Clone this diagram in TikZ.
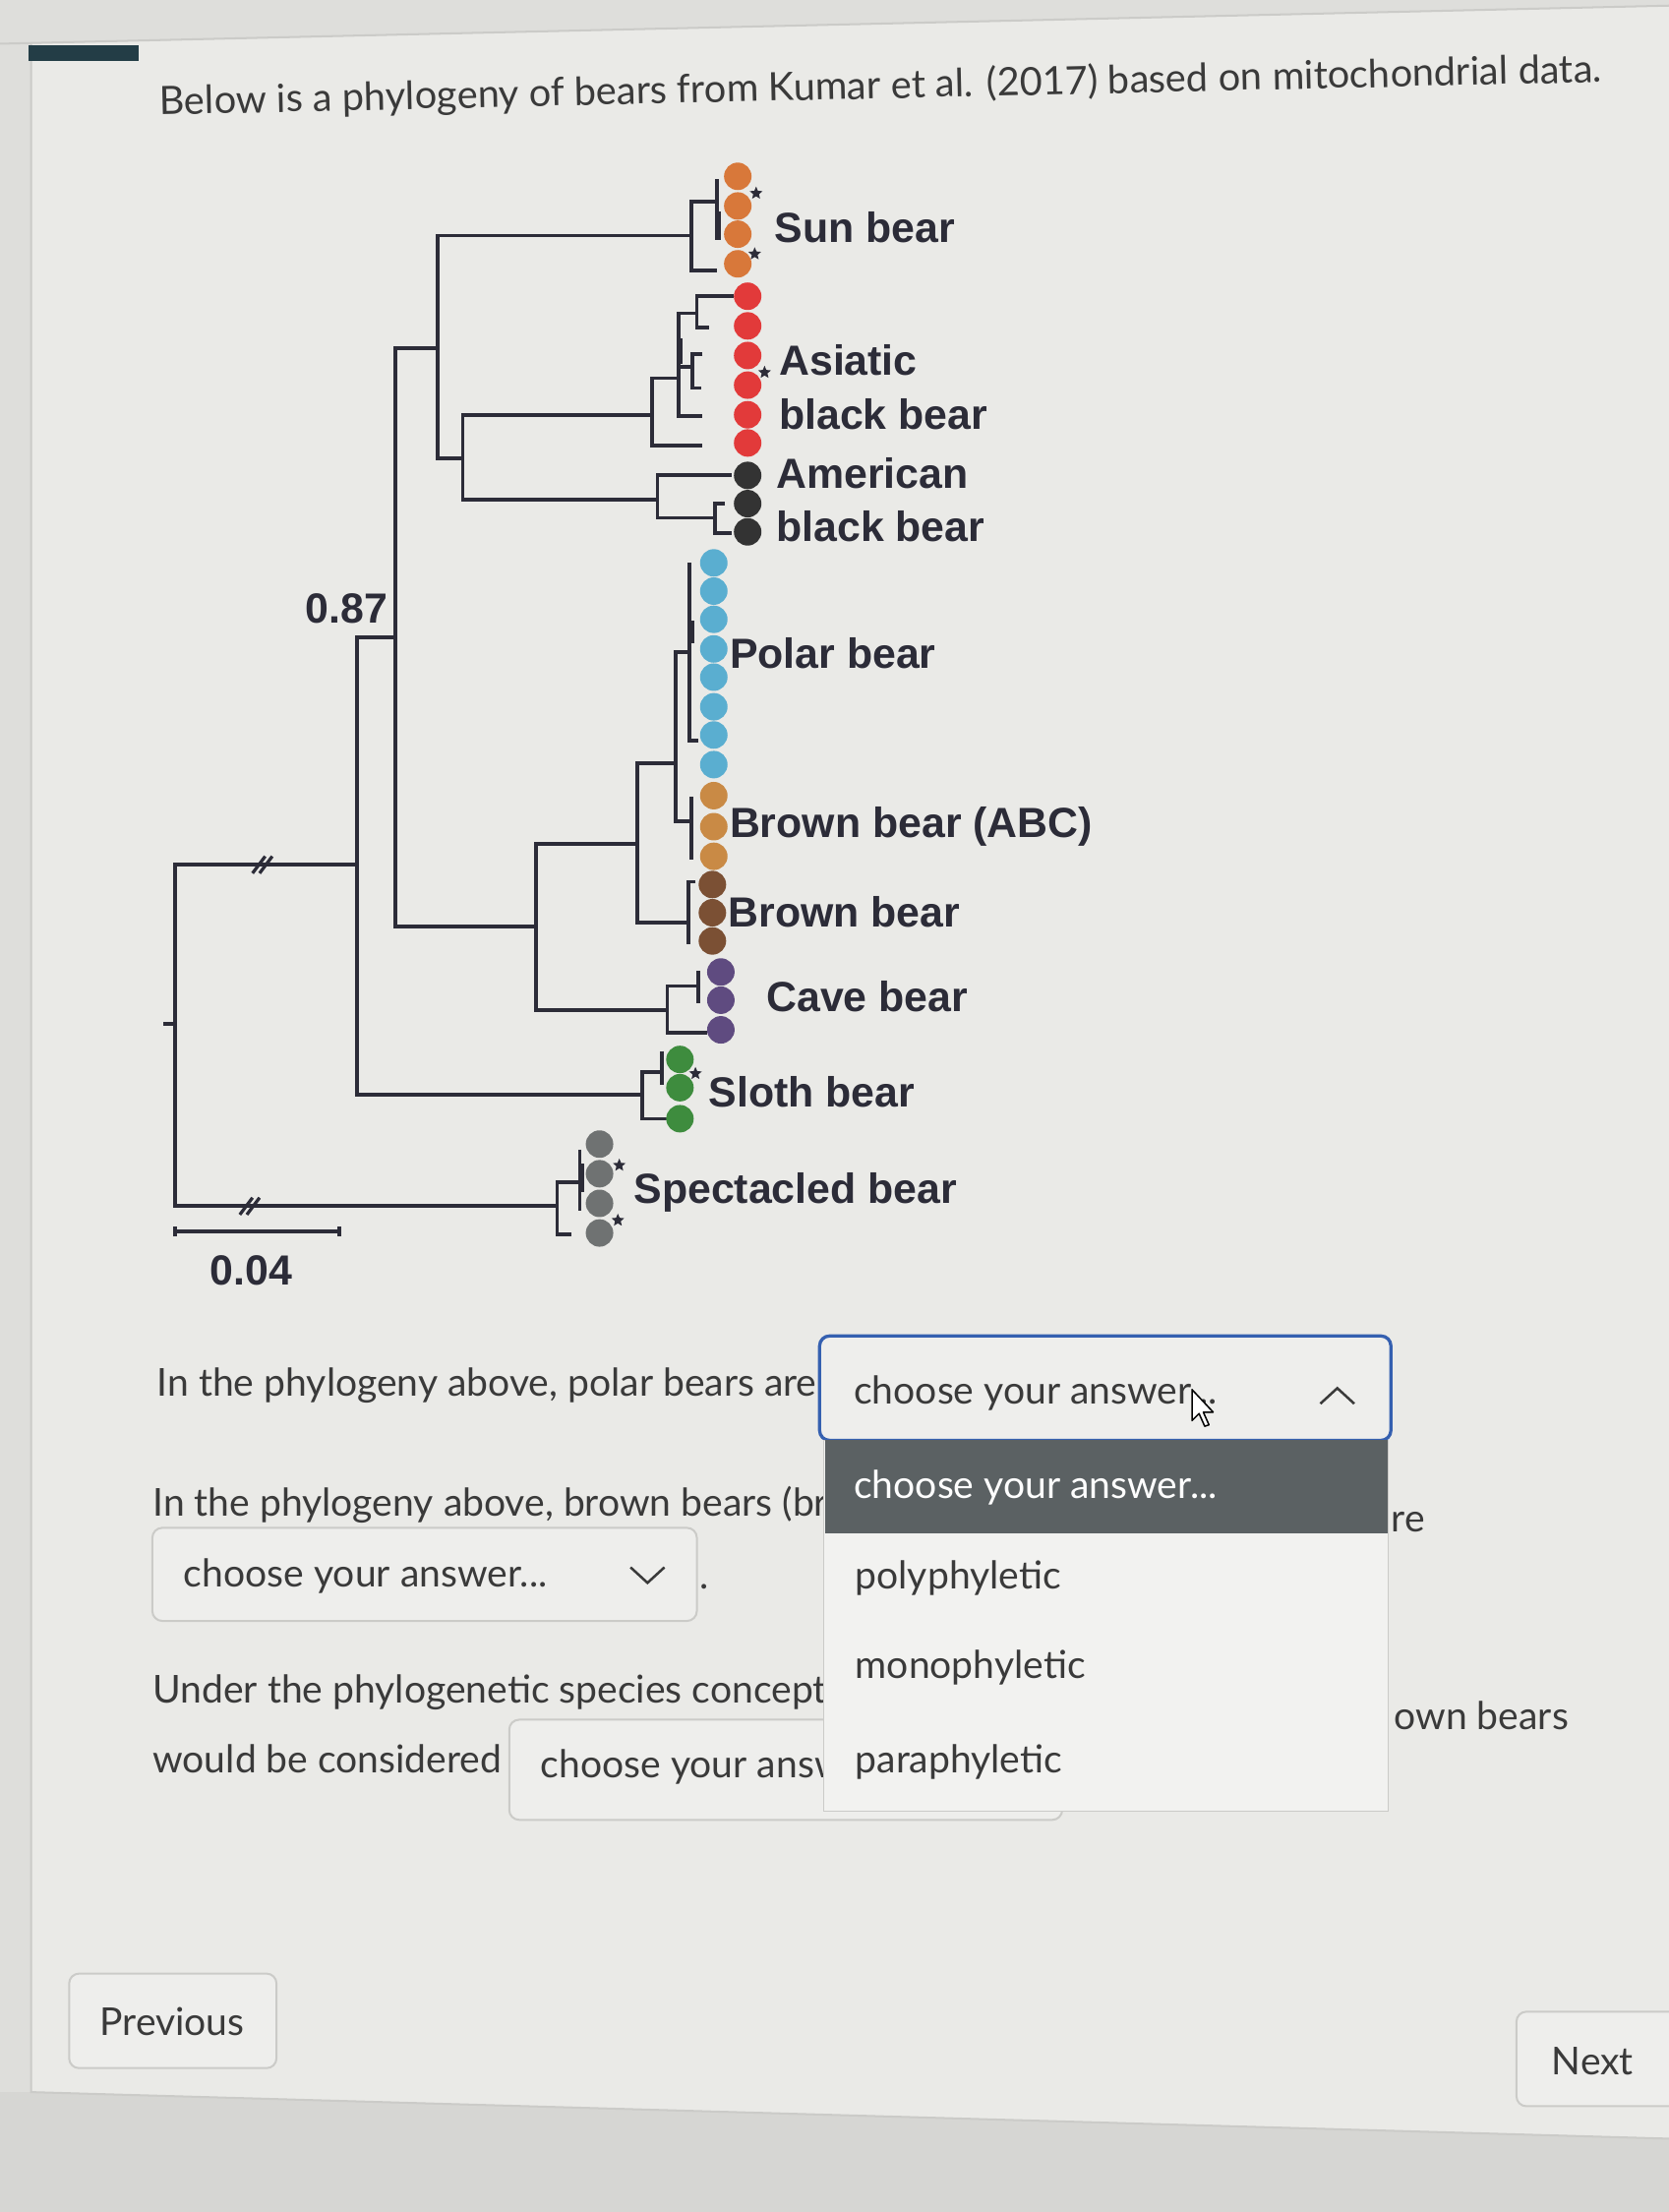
\documentclass[tikz,border=0pt]{standalone}
\usepackage{fontspec}
\setmainfont{Lato}
\newfontfamily\treefont{Liberation Sans}
\usetikzlibrary{shapes.geometric, positioning, arrows.meta}

\definecolor{paper}{HTML}{DEDEDB}
\definecolor{card}{HTML}{EAEAE7}
\definecolor{under}{HTML}{D6D6D3}
\definecolor{ink}{HTML}{2C2C38}
\definecolor{uitext}{HTML}{3A3A3A}
\definecolor{boxedge}{HTML}{CBCBC8}
\definecolor{boxfill}{HTML}{EEEEEC}
\definecolor{boxblue}{HTML}{3560B0}
\definecolor{listbg}{HTML}{F2F2F0}
\definecolor{hilite}{HTML}{5B6163}
\definecolor{sunc}{HTML}{D8783A}
\definecolor{asic}{HTML}{E23A3A}
\definecolor{amec}{HTML}{333333}
\definecolor{polc}{HTML}{5AAED0}
\definecolor{abcc}{HTML}{C98A45}
\definecolor{broc}{HTML}{7B5034}
\definecolor{cavc}{HTML}{5F4B80}
\definecolor{sloc}{HTML}{3E8C3E}
\definecolor{spec}{HTML}{6F7272}

\begin{document}
\begin{tikzpicture}[x=0.02cm, y=-0.02cm,
    branch/.style={draw=ink, line width=1.5pt},
    tipdot/.style={circle, fill=#1, inner sep=0pt, minimum size=0.39cm},
    stardot/.style={star, star points=5, star point ratio=2.2, fill=ink, inner sep=0pt, minimum size=0.19cm},
    lbl/.style={anchor=base west, inner sep=0pt, text=ink, font=\treefont\bfseries\fontsize{17}{20}\selectfont},
    ui/.style={anchor=base west, inner sep=0pt, text=uitext, font=\fontsize{15.5}{18}\selectfont},
    dropbox/.style={draw=#1, fill=boxfill, rounded corners=4pt, line width=0.8pt},
    dropbox/.default=boxedge]

  % page and card
  \useasboundingbox (0,0) rectangle (1183,1568);
  \fill[paper] (0,0) rectangle (1183,1568);
  \fill[card] (22,31) -- (1183,4) -- (1183,1516) -- (22,1483) -- cycle;
  \fill[under] (0,1483) -- (22,1483) -- (1183,1516) -- (1183,1568) -- (0,1568) -- cycle;
  \draw[boxedge, line width=0.8pt] (0,31) -- (1183,4);
  \draw[boxedge, line width=0.8pt] (22,31) -- (22,1483) -- (1183,1516);
  \fill[ink!80!teal] (20,32) rectangle (98,43);

  \node[ui, rotate=1.3, font=\fontsize{15.75}{19}\selectfont] (title) at (113,81.5)
    {Below is a phylogeny of bears from Kumar et al. (2017) based on mitochondrial data.};

  % tree
  \coordinate (stub) at (116,726);
  \coordinate (root) at (124,726);
  \coordinate (n1) at (253,613);
  \coordinate (n2) at (280,452);
  \coordinate (n3) at (310,247);
  \coordinate (n4) at (380,657);
  \coordinate (n5) at (328,325);
  \coordinate (n6) at (452,598);
  \coordinate (n7) at (479,541);
  \coordinate (su) at (490,167);
  \coordinate (as) at (462,294);
  \coordinate (am) at (466,354);
  \coordinate (po) at (489,462);
  \coordinate (abc) at (490,582);
  \coordinate (br) at (488,654);
  \coordinate (cv) at (473,716);
  \coordinate (sl) at (455,776);
  \coordinate (sp) at (395,855);
  \coordinate (a2) at (481,268);
  \coordinate (a3) at (494,222);

  \draw[branch] (stub) -- (root)
    (root) |- (n1) (root) |- (sp)
    (n1) |- (n2) (n1) |- (sl)
    (n2) |- (n3) (n2) |- (n4)
    (n3) |- (su) (n3) |- (n5)
    (n5) |- (as) (n5) |- (am)
    (n4) |- (n6) (n4) |- (cv)
    (n6) |- (n7) (n6) |- (br)
    (n7) |- (po) (n7) |- (abc);

  % clades
  \draw[branch] (su) |- (508,143) (su) |- (508,192) (508,127) -- (508,169);
  \draw[branch, line width=2.2pt] (509,150) -- (509,170);
  \draw[branch] (as) |- (a2) (as) |- (498,316) (a2) |- (a3) (a2) |- (498,295)
    (a3) |- (520,210) (a3) |- (503,232);
  \draw[branch] (481,260) -- (491,260) (498,251) -| (491,275) -- (497,275);
  \draw[branch, line width=2.2pt] (482,240) -- (482,258);
  \draw[branch] (am) |- (519,337) (am) |- (507,367) (514,357) -| (507,378) -- (519,378);
  \draw[branch] (489,399) -- (489,525) -- (495,525);
  \draw[branch, line width=2.2pt] (490,440) -- (490,456);
  \draw[branch] (490,565) -- (490,609);
  \draw[branch] (493,625) -| (488,669);
  \draw[branch] (cv) |- (495,699) (cv) |- (501,732) (495,688) -- (495,711);
  \draw[branch] (sl) |- (469,760) (sl) |- (477,793) (469,745) -- (469,769);
  \draw[branch] (sp) |- (411,838) (sp) |- (405,875) (411,815) -- (411,858);
  \draw[branch, line width=2.2pt] (412,825) -- (412,845);

  % breaks and scale
  \foreach \p in {(187,613),(178,855)}
    \draw[ink, line width=1.3pt] \p ++(-8,6) -- ++(9,-12) \p ++(-3,6) -- ++(9,-12);
  \coordinate (sbl) at (123,873);
  \coordinate (sbr) at (242,873);
  \draw[branch, {Bar[width=4pt]}-{Bar[width=4pt]}] (sbl) -- (sbr);
  \node[lbl, anchor=base] (scale) at (178,911) {0.04};
  \node[lbl, anchor=base east] (supp) at (275,442) {0.87};

  % tips
  \foreach \y [count=\i] in {125,146,166,187}
    \node[tipdot=sunc] (sun\i) at (523,\y) {};
  \foreach \y [count=\i] in {210,231,252,273,294,314}
    \node[tipdot=asic] (asi\i) at (530,\y) {};
  \foreach \y [count=\i] in {337,357,377}
    \node[tipdot=amec] (ame\i) at (530,\y) {};
  \foreach \y [count=\i] in {399,419,439,460,480,501,521,542}
    \node[tipdot=polc] (pol\i) at (506,\y) {};
  \foreach \y [count=\i] in {564,586,607}
    \node[tipdot=abcc] (abc\i) at (506,\y) {};
  \foreach \y [count=\i] in {627,647,667}
    \node[tipdot=broc] (bro\i) at (505,\y) {};
  \foreach \y [count=\i] in {689,709,730}
    \node[tipdot=cavc] (cav\i) at (511,\y) {};
  \foreach \y [count=\i] in {751,771,793}
    \node[tipdot=sloc] (slo\i) at (482,\y) {};
  \foreach \y [count=\i] in {811,832,853,874}
    \node[tipdot=spec] (spe\i) at (425,\y) {};

  \node[stardot] (st1) at (536,137) {};
  \node[stardot] (st2) at (535,180) {};
  \node[stardot] (st3) at (542,264) {};
  \node[stardot] (st4) at (493,761) {};
  \node[stardot] (st5) at (439,826) {};
  \node[stardot] (st6) at (438,865) {};

  \node[lbl] (sunlbl) at (549,172) {Sun bear};
  \node[lbl] (asilbl) at (552,266) {Asiatic};
  \node[lbl] (asilbl2) at (552,304) {black bear};
  \node[lbl] (amelbl) at (550,346) {American};
  \node[lbl] (amelbl2) at (550,384) {black bear};
  \node[lbl] (pollbl) at (517,474) {Polar bear};
  \node[lbl] (abclbl) at (517,594) {Brown bear (ABC)};
  \node[lbl] (brolbl) at (516,657) {Brown bear};
  \node[lbl] (cavlbl) at (543,717) {Cave bear};
  \node[lbl] (slolbl) at (502,785) {Sloth bear};
  \node[lbl] (spelbl) at (449,853) {Spectacled bear};

  % questions
  \node[ui] (q1) at (111,990) {In the phylogeny above, polar bears are};
  \draw[dropbox=boxblue, line width=1.3pt] (581,947) rectangle (986,1021);
  \node[ui] (ans1) at (605,995) {choose your answer...};
  \draw[uitext, line width=1pt] (936,995) -- (948,984) -- (960,995);
  \coordinate (cur) at (845,985);
  \draw[black, fill=white, line width=0.6pt, line join=round] (cur) -- ++(0,22) -- ++(5,-5)
    -- ++(4,9) -- ++(3,-1) -- ++(-4,-9) -- ++(7,0) -- cycle;

  \node[ui] (q2) at (108,1075) {In the phylogeny above, brown bears (br};
  \node[ui] (q2end) at (986,1086) {re};
  \draw[dropbox] (108,1083) rectangle (494,1149);
  \node[ui] (ans2) at (130,1125) {choose your answer...};
  \draw[uitext, line width=1pt] (447,1111) -- (459,1122) -- (471,1111);
  \node[ui] (dot2) at (496,1126) {.};

  \node[ui] (q3) at (108,1207) {Under the phylogenetic species concept};
  \node[ui] (q3end) at (988,1226) {own bears};
  \node[ui] (q4) at (108,1257) {would be considered};
  \draw[dropbox] (361,1219) rectangle (753,1290);
  \node[ui] (ans3) at (383,1260) {choose your answ};

  % open list
  \draw[boxedge, fill=listbg] (584,1021) rectangle (984,1284);
  \fill[hilite] (585,1021) rectangle (984,1087);
  \node[ui, text=white] (opt0) at (605,1062) {choose your answer...};
  \node[ui] (opt1) at (606,1126) {polyphyletic};
  \node[ui] (opt2) at (606,1190) {monophyletic};
  \node[ui] (opt3) at (606,1257) {paraphyletic};

  % buttons
  \draw[dropbox] (49,1399) rectangle (196,1466);
  \node[ui, anchor=base] (prev) at (122,1443) {Previous};
  \draw[dropbox] (1075,1426) rectangle (1195,1493);
  \node[ui, anchor=base] (next) at (1129,1471) {Next};
\end{tikzpicture}
\end{document}
